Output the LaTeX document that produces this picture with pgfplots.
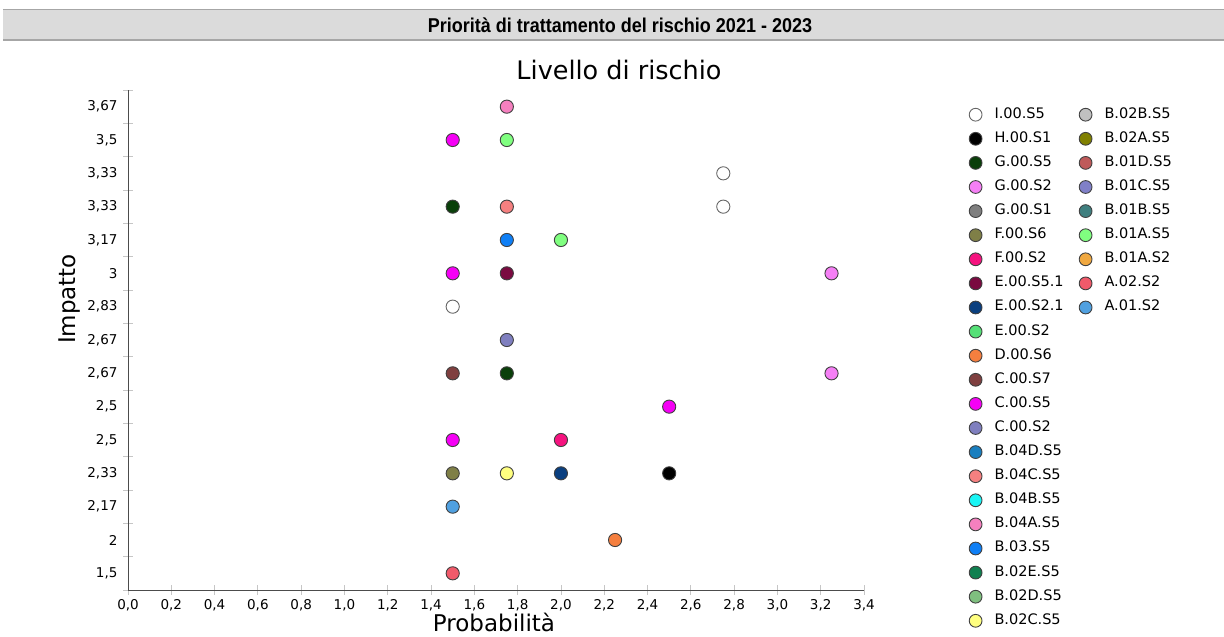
\documentclass[border=0pt]{standalone}
\usepackage{pgfplots}
\pgfplotsset{compat=1.18}
\usepackage{fontspec}
\setmainfont{DejaVu Sans}
\newfontfamily\hdrfont[FakeStretch=0.9]{Liberation Sans}
\definecolor{cI}{HTML}{FFFFFF}
\definecolor{cH}{HTML}{000000}
\definecolor{cGfive}{HTML}{0A3F0A}
\definecolor{cGtwo}{HTML}{F57FF5}
\definecolor{cGone}{HTML}{7F7F7F}
\definecolor{cFsix}{HTML}{7F7F47}
\definecolor{cFtwo}{HTML}{F5137F}
\definecolor{cEfive}{HTML}{7A0A40}
\definecolor{cEtwoone}{HTML}{0A3F7F}
\definecolor{cEtwo}{HTML}{55E077}
\definecolor{cD}{HTML}{F57F3F}
\definecolor{cCseven}{HTML}{7F3F3F}
\definecolor{cCfive}{HTML}{F500F5}
\definecolor{cCtwo}{HTML}{7F7FBF}
\definecolor{cBfourD}{HTML}{1A7FBF}
\definecolor{cBfourC}{HTML}{F58080}
\definecolor{cBfourB}{HTML}{1AF5F5}
\definecolor{cBfourA}{HTML}{F580BF}
\definecolor{cBthree}{HTML}{0F7FF5}
\definecolor{cBtwoE}{HTML}{108050}
\definecolor{cBtwoD}{HTML}{7FBF7F}
\definecolor{cBtwoC}{HTML}{FFFF80}
\definecolor{cBtwoB}{HTML}{C0C0C0}
\definecolor{cBtwoA}{HTML}{808000}
\definecolor{cBoneD}{HTML}{BF5A5A}
\definecolor{cBoneC}{HTML}{8080C8}
\definecolor{cBoneB}{HTML}{3F7F7F}
\definecolor{cBoneA}{HTML}{80FF80}
\definecolor{cBoneAtwo}{HTML}{F0A840}
\definecolor{cAtwo}{HTML}{F05A6A}
\definecolor{cAone}{HTML}{50A0E0}
\pgfplotsset{pt/.style={only marks, mark=*, mark size=6.6pt, mark options={draw=black!75, line width=0.9pt, fill=#1}},
  ptw/.style={only marks, mark=*, mark size=6.6pt, mark options={draw=black!60, line width=0.9pt, fill=white}},
  lg/.style={only marks, mark=*, mark size=6.4pt, mark options={draw=black!75, line width=0.9pt, fill=#1}},
  lgw/.style={only marks, mark=*, mark size=6.4pt, mark options={draw=black!60, line width=0.9pt, fill=white}}}
\newcommand{\lgent}[2]{\addlegendimage{lg=#1}\addlegendentry{#2}}
\newcommand{\emptyle}{\addlegendimage{empty legend}\addlegendentry{}}
\begin{document}
\begin{tikzpicture}
\useasboundingbox (0,0) rectangle (1224pt,637pt);
\fill[gray!28] (3pt,597pt) rectangle (1224pt,627pt);
\draw[gray!70, line width=1pt] (3pt,627pt) -- (1224pt,627pt);
\draw[gray!70, line width=1.6pt] (3pt,597pt) -- (1224pt,597pt);
\node[font=\hdrfont\bfseries\fontsize{20}{22}\selectfont] at (620pt,612pt) {Priorità di trattamento del rischio 2021 - 2023};
\node[font=\fontsize{25.5}{28}\selectfont] at (619pt,567pt) {Livello di rischio};
\node[font=\fontsize{23}{26}\selectfont, rotate=90] at (70pt,338pt) {Impatto};
\node[font=\fontsize{23}{26}\selectfont, anchor=base] at (494pt,5pt) {Probabilità};
\begin{axis}[
  at={(128pt,47pt)}, anchor=south west,
  scale only axis, width=736pt, height=500pt,
  xmin=0, xmax=3.4, ymin=-0.5, ymax=14.5,
  axis x line=bottom, axis y line=left,
  axis line style={-, draw=black!70, line width=0.9pt},
  xtick={0,0.2,0.4,0.6,0.8,1.0,1.2,1.4,1.6,1.8,2.0,2.2,2.4,2.6,2.8,3.0,3.2,3.4},
  xticklabel style={yshift=-1pt, /pgf/number format/use comma, /pgf/number format/fixed, /pgf/number format/fixed zerofill, /pgf/number format/precision=1},
  ytick={0,...,14},
  yticklabels={{1,5},2,{2,17},{2,33},{2,5},{2,5},{2,67},{2,67},{2,83},3,{3,17},{3,33},{3,33},{3,5},{3,67}},
  minor ytick={-0.5,0.5,1.5,2.5,3.5,4.5,5.5,6.5,7.5,8.5,9.5,10.5,11.5,12.5,13.5,14.5},
  major tick length=10pt, minor tick length=10pt,
  tick align=center,
  every major y tick/.style={draw=none},
  every minor y tick/.style={draw=gray!45, line width=0.8pt},
  every major x tick/.style={draw=gray!45, line width=0.8pt},
  ticklabel style={font=\fontsize{13.5}{15}\selectfont},
  /pgf/number format/assume math mode=true,
  yticklabel style={xshift=-2pt},
  clip=false,
  legend cell align=left,
  legend columns=2,
  legend style={at={(1.1427,0.964)}, anchor=north west, draw=none, fill=none, inner sep=0pt,
    nodes={inner sep=0pt, text height=10pt, text depth=3pt, font=\fontsize{14.5}{16}\selectfont},
    row sep=11.1pt,
    /tikz/every odd column/.style={column sep=12.5pt},
    /tikz/every even column/.style={column sep=14pt}},
  legend image code/.code={\draw[mark repeat=2, mark phase=2, #1] plot coordinates {(0pt,0pt) (8pt,0pt) (16pt,0pt)};},
]
\addplot[ptw, forget plot] coordinates {(1.5,8) (2.75,11) (2.75,12)};
\addplot[pt=cH, forget plot] coordinates {(2.5,3)};
\addplot[pt=cGfive, forget plot] coordinates {(1.5,11) (1.75,6)};
\addplot[pt=cGtwo, forget plot] coordinates {(3.25,9) (3.25,6)};
\addplot[pt=cFsix, forget plot] coordinates {(1.5,3)};
\addplot[pt=cFtwo, forget plot] coordinates {(2.0,4)};
\addplot[pt=cEfive, forget plot] coordinates {(1.75,9)};
\addplot[pt=cEtwoone, forget plot] coordinates {(2.0,3)};
\addplot[pt=cBoneA, forget plot] coordinates {(1.75,13)};
\addplot[pt=cD, forget plot] coordinates {(2.25,1)};
\addplot[pt=cCseven, forget plot] coordinates {(1.5,6)};
\addplot[pt=cCfive, forget plot] coordinates {(1.5,13) (1.5,9) (1.5,4) (2.5,5)};
\addplot[pt=cCtwo, forget plot] coordinates {(1.75,7)};
\addplot[pt=cBfourC, forget plot] coordinates {(1.75,11)};
\addplot[pt=cBfourA, forget plot] coordinates {(1.75,14)};
\addplot[pt=cBthree, forget plot] coordinates {(1.75,10)};
\addplot[pt=cBtwoC, forget plot] coordinates {(1.75,3)};
\addplot[pt=cBoneA, forget plot] coordinates {(2.0,10)};
\addplot[pt=cAtwo, forget plot] coordinates {(1.5,0)};
\addplot[pt=cAone, forget plot] coordinates {(1.5,2)};
% legend, row-major interleaved
\addlegendimage{lgw}\addlegendentry{I.00.S5}
\lgent{cBtwoB}{B.02B.S5}
\lgent{cH}{H.00.S1}
\lgent{cBtwoA}{B.02A.S5}
\lgent{cGfive}{G.00.S5}
\lgent{cBoneD}{B.01D.S5}
\lgent{cGtwo}{G.00.S2}
\lgent{cBoneC}{B.01C.S5}
\lgent{cGone}{G.00.S1}
\lgent{cBoneB}{B.01B.S5}
\lgent{cFsix}{F.00.S6}
\lgent{cBoneA}{B.01A.S5}
\lgent{cFtwo}{F.00.S2}
\lgent{cBoneAtwo}{B.01A.S2}
\lgent{cEfive}{E.00.S5.1}
\lgent{cAtwo}{A.02.S2}
\lgent{cEtwoone}{E.00.S2.1}
\lgent{cAone}{A.01.S2}
\lgent{cEtwo}{E.00.S2}\emptyle
\lgent{cD}{D.00.S6}\emptyle
\lgent{cCseven}{C.00.S7}\emptyle
\lgent{cCfive}{C.00.S5}\emptyle
\lgent{cCtwo}{C.00.S2}\emptyle
\lgent{cBfourD}{B.04D.S5}\emptyle
\lgent{cBfourC}{B.04C.S5}\emptyle
\lgent{cBfourB}{B.04B.S5}\emptyle
\lgent{cBfourA}{B.04A.S5}\emptyle
\lgent{cBthree}{B.03.S5}\emptyle
\lgent{cBtwoE}{B.02E.S5}\emptyle
\lgent{cBtwoD}{B.02D.S5}\emptyle
\lgent{cBtwoC}{B.02C.S5}\emptyle
\end{axis}
\end{tikzpicture}
\end{document}
